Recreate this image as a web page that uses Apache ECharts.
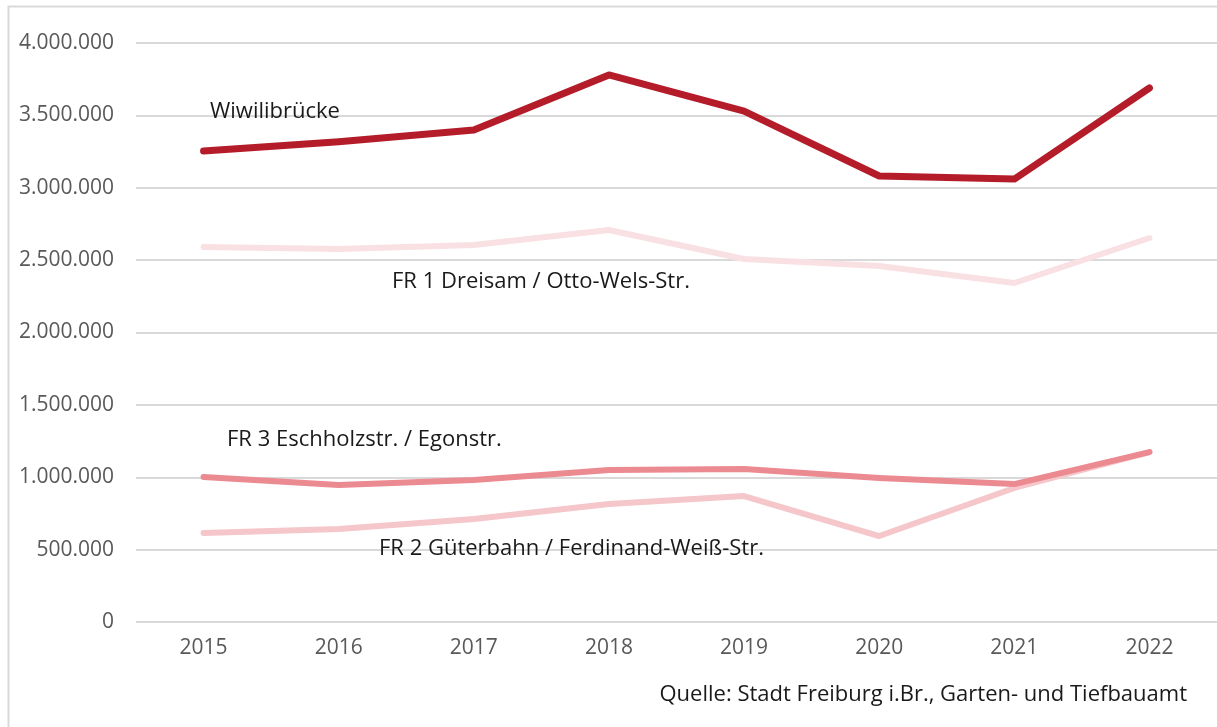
<!DOCTYPE html>
<html>
<head>
<meta charset="utf-8">
<script src="https://cdn.jsdelivr.net/npm/echarts@6/dist/echarts.min.js"></script>
<style>
    html, body { margin: 0; padding: 0; background: #fff; }
    #chart { width: 1217px; height: 727px; }
</style>
</head>
<body>
<div id="chart"></div>
<script>
    // Jahre und Zählwerte (Radverkehr pro Jahr)
    var years = ['2015', '2016', '2017', '2018', '2019', '2020', '2021', '2022'];
    var wiwili = [3254000, 3318000, 3399000, 3779000, 3530000, 3081000, 3060000, 3689000];
    var fr1 = [2591000, 2577000, 2604000, 2708000, 2508000, 2459000, 2342000, 2653000];
    var fr3 = [1002000, 946000, 981000, 1050000, 1057000, 995000, 953000, 1174000];
    var fr2 = [615000, 642000, 712000, 815000, 870000, 594000, 926000, 1174000];
    var seriesNames = ['Wiwilibrücke', 'FR 1 Dreisam / Otto-Wels-Str.', 'FR 3 Eschholzstr. / Egonstr.', 'FR 2 Güterbahn / Ferdinand-Weiß-Str.'];
    var sourceText = 'Quelle: Stadt Freiburg i.Br., Garten- und Tiefbauamt';

    var font = '"Open Sans", "Liberation Sans", sans-serif';

    function formatNum(v) {
        return String(v).replace(/\B(?=(\d{3})+(?!\d))/g, '.');
    }

    function lineSeries(name, data, color, width) {
        return {
            name: name,
            type: 'line',
            data: data,
            showSymbol: false,
            symbol: 'none',
            lineStyle: { color: color, width: width, cap: 'round', join: 'round' },
            z: 3
        };
    }

    // Beschriftung direkt an den Linien
    function label(text, x, y, align) {
        return {
            type: 'text',
            x: x,
            y: y,
            z: 100,
            style: {
                text: text, fill: '#1a1a1a', font: '22px ' + font,
                align: align || 'left', verticalAlign: 'middle'
            }
        };
    }

    var chart = echarts.init(document.getElementById('chart'));
    var option = {
        animation: false,
        grid: { left: 136, right: -2, top: 43, bottom: 105 },
        xAxis: {
            type: 'category',
            data: years,
            boundaryGap: true,
            axisLine: { show: false },
            axisTick: { show: false },
            axisLabel: { color: '#595959', fontSize: 21, fontFamily: font, margin: 16 }
        },
        yAxis: {
            type: 'value',
            min: 0,
            max: 4000000,
            interval: 500000,
            axisLine: { show: false },
            axisTick: { show: false },
            axisLabel: { color: '#595959', fontSize: 21, fontFamily: font, margin: 22, formatter: formatNum },
            splitLine: { lineStyle: { color: '#d9d9d9', width: 2 } }
        },
        series: [
            lineSeries(seriesNames[1], fr1, '#f9e0e3', 6),
            lineSeries(seriesNames[3], fr2, '#f5c6ca', 6),
            lineSeries(seriesNames[2], fr3, '#ec8a91', 6),
            lineSeries(seriesNames[0], wiwili, '#b51c2a', 7)
        ],
        graphic: [
            {
                type: 'rect',
                shape: { x: 8.5, y: 6.5, width: 1230, height: 740 },
                style: { fill: 'none', stroke: '#d9d9d9', lineWidth: 2 },
                silent: true
            },
            label(seriesNames[0], 210, 112),
            label(seriesNames[1], 392, 282),
            label(seriesNames[2], 227, 440),
            label(seriesNames[3], 379, 549),
            label(sourceText, 1187, 695, 'right')
        ]
    };
    chart.setOption(option);
</script>
</body>
</html>
